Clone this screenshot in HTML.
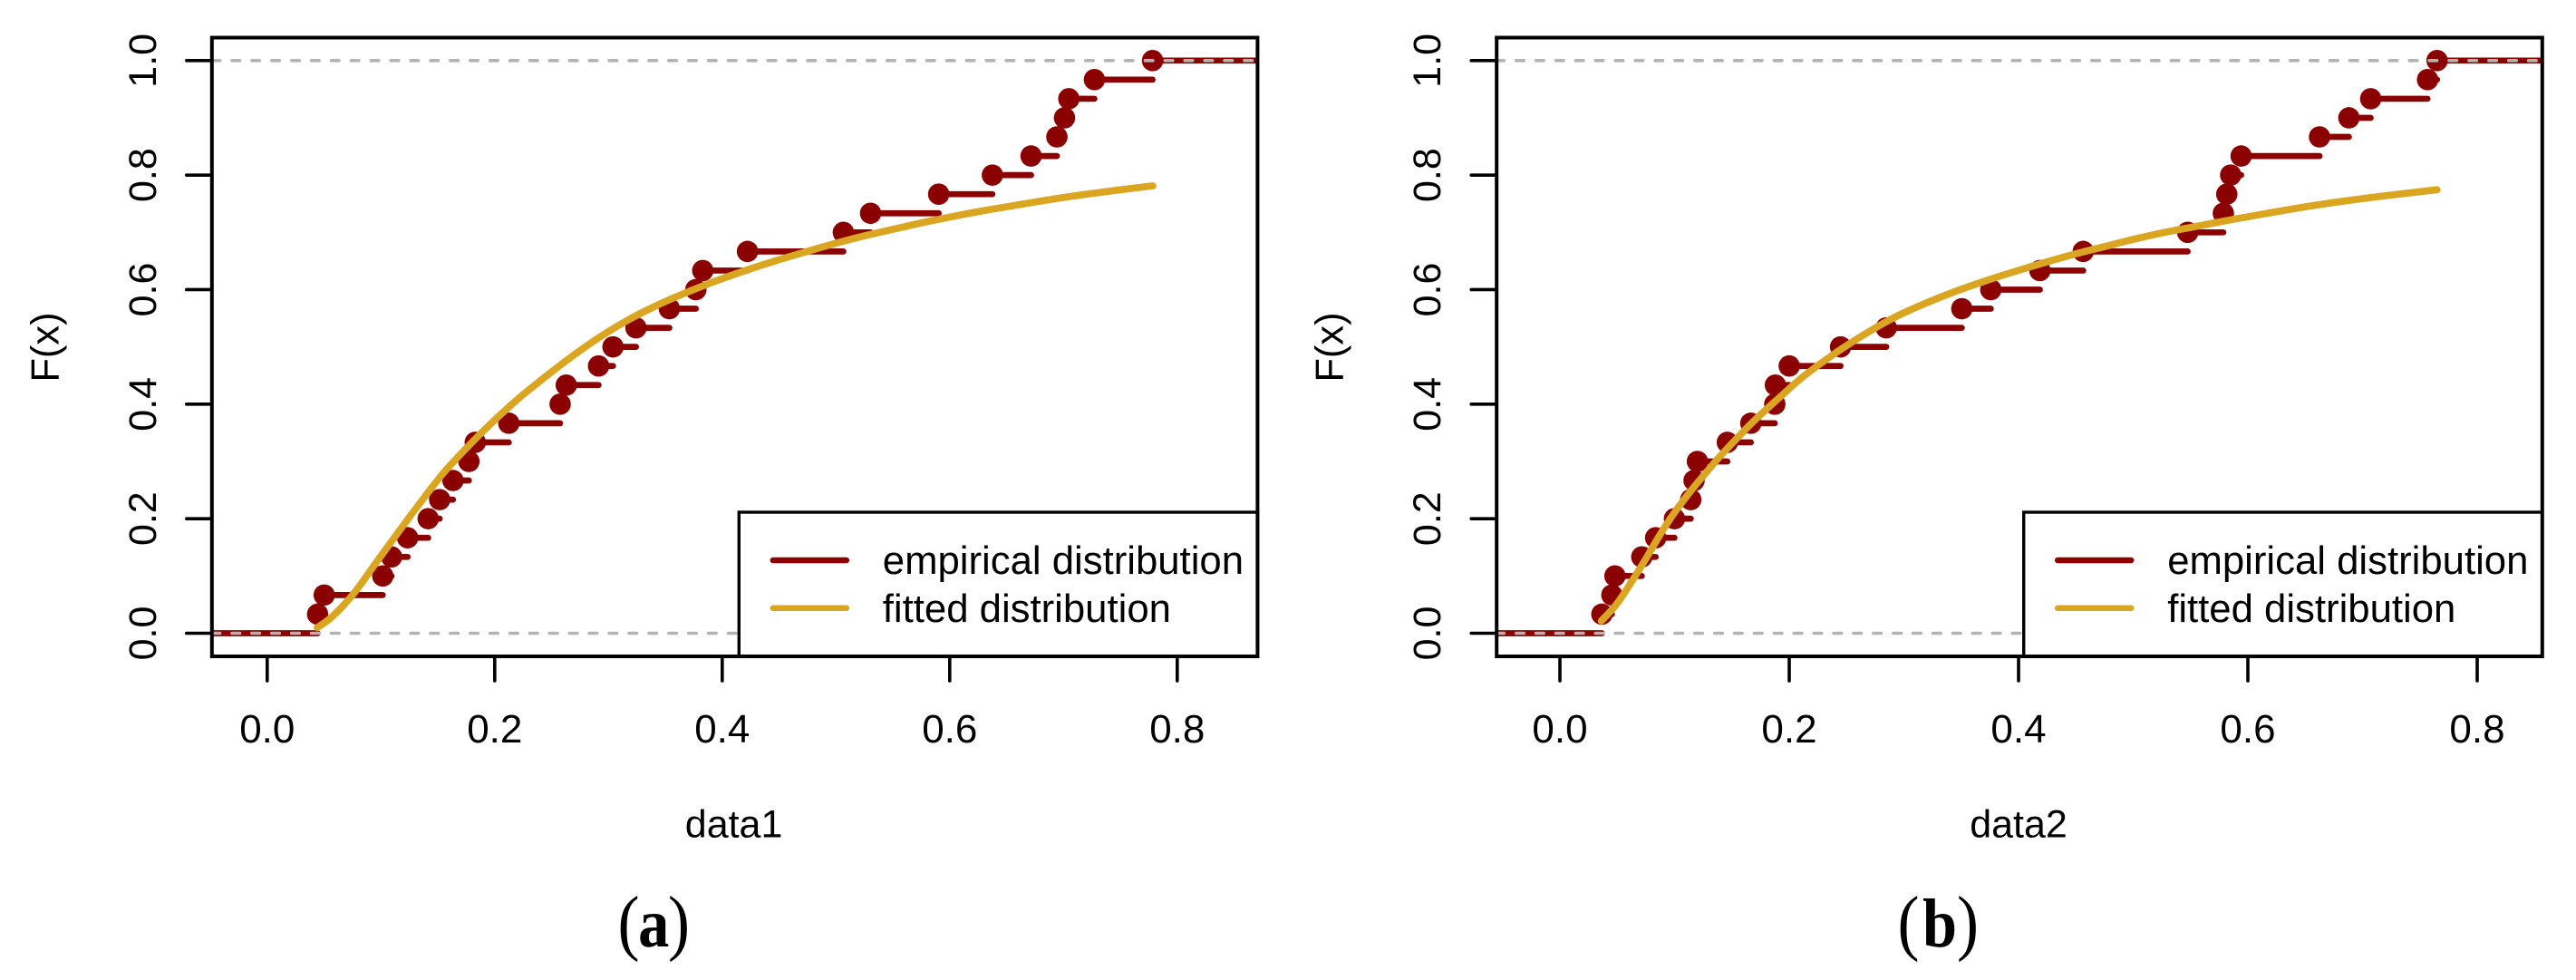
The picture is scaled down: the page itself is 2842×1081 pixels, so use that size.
<!DOCTYPE html>
<html lang="en">
<head>
<meta charset="utf-8">
<title>Empirical and fitted distribution charts</title>
<style>
html,body{margin:0;padding:0;background:#fff;}
body{width:2842px;height:1081px;overflow:hidden;}
svg{display:block;}
text{font-family:"Liberation Sans",sans-serif;fill:#000;}
text.cap{font-family:"Liberation Serif",serif;}
</style>
</head>
<body>
<svg id="figure" xmlns="http://www.w3.org/2000/svg" width="2842" height="1081" viewBox="0 0 2842 1081"></svg>
<script>
const xTickValues = [0.0, 0.2, 0.4, 0.6, 0.8];
const xTickLabels = ["0.0", "0.2", "0.4", "0.6", "0.8"];
const yTickValues = [0.0, 0.2, 0.4, 0.6, 0.8, 1.0];
const yTickLabels = ["0.0", "0.2", "0.4", "0.6", "0.8", "1.0"];
const legendLabels = ["empirical distribution", "fitted distribution"];

const empiricalY = [0.0333,0.0667,0.1,0.1333,0.1667,0.2,0.2333,0.2667,0.3,0.3333,0.3667,0.4,0.4333,0.4667,0.5,0.5333,0.5667,0.6,0.6333,0.6667,0.7,0.7333,0.7667,0.8,0.8333,0.8667,0.9,0.9333,0.9667,1.0];

const empiricalX1 = [0.0443,0.0501,0.1016,0.1093,0.1234,0.1415,0.1516,0.1633,0.1773,0.1829,0.2124,0.2575,0.2629,0.2913,0.304,0.3242,0.3535,0.3768,0.3829,0.4222,0.5065,0.5304,0.5903,0.6375,0.6715,0.6942,0.7009,0.7047,0.7272,0.7783];
const fittedX1 = [0.044,0.0573,0.0759,0.0971,0.1237,0.1502,0.1635,0.19,0.2167,0.2352,0.2618,0.2883,0.3149,0.3414,0.368,0.3946,0.4211,0.4477,0.4743,0.5008,0.5274,0.5539,0.5805,0.6071,0.6336,0.6643,0.7024,0.7405,0.7786];
const fittedF1 = [0.0098,0.0293,0.0689,0.1269,0.1992,0.2683,0.2989,0.3532,0.4026,0.4331,0.4743,0.5119,0.5444,0.5714,0.5945,0.6152,0.6338,0.6508,0.6665,0.6815,0.695,0.707,0.7188,0.7295,0.7392,0.7495,0.7617,0.772,0.7812];

const empiricalX2 = [0.0366,0.0453,0.048,0.0714,0.0835,0.0999,0.1141,0.117,0.1199,0.146,0.1665,0.1874,0.1879,0.2,0.2448,0.2846,0.3505,0.3758,0.4186,0.4564,0.5475,0.5786,0.5816,0.585,0.5941,0.6625,0.6881,0.7071,0.7567,0.765];
const fittedX2 = [0.0361,0.0493,0.0625,0.0756,0.0888,0.102,0.1151,0.1283,0.1415,0.1678,0.1942,0.2126,0.239,0.2653,0.2917,0.318,0.3444,0.3707,0.3971,0.4234,0.4498,0.4761,0.5025,0.5288,0.5552,0.5815,0.6079,0.6383,0.6762,0.7138,0.765];
const fittedF2 = [0.0214,0.0504,0.0899,0.1322,0.177,0.2166,0.2509,0.2825,0.313,0.368,0.4165,0.4488,0.4875,0.5215,0.5515,0.5754,0.5965,0.615,0.6319,0.6477,0.6625,0.6757,0.6889,0.7005,0.7105,0.7206,0.7301,0.7407,0.7525,0.7625,0.7744];

const NS = "http://www.w3.org/2000/svg";
const RED = "#8b0000", GOLD = "#daa520", GRAY = "#b3b3b3";
const svg = document.getElementById("figure");

function make(parent, tag, attrs, txt) {
  const el = document.createElementNS(NS, tag);
  for (const k in attrs) el.setAttribute(k, attrs[k]);
  if (txt !== undefined) el.textContent = txt;
  parent.appendChild(el);
  return el;
}

function smoothPath(p) {
  let d = "M" + p[0][0].toFixed(2) + " " + p[0][1].toFixed(2);
  for (let i = 0; i < p.length - 1; i++) {
    const a = p[Math.max(i - 1, 0)], b = p[i], c = p[i + 1], e = p[Math.min(i + 2, p.length - 1)];
    const c1x = b[0] + (c[0] - a[0]) / 6, c1y = b[1] + (c[1] - a[1]) / 6;
    const c2x = c[0] - (e[0] - b[0]) / 6, c2y = c[1] - (e[1] - b[1]) / 6;
    d += "C" + c1x.toFixed(2) + " " + c1y.toFixed(2) + " " + c2x.toFixed(2) + " " + c2y.toFixed(2) + " " + c[0].toFixed(2) + " " + c[1].toFixed(2);
  }
  return d;
}

function drawPanel(cfg) {
  const L = cfg.left, R = cfg.right, T = 41.5, B = 724;
  const xAxis = v => cfg.x0 + v * cfg.xScale;
  const yAxis = v => 698.5 - v * 631.7;

  const g = make(svg, "g", {});
  
  

  const clipId = "clip-" + cfg.name;
  const defs = make(g, "defs", {});
  const cp = make(defs, "clipPath", {id: clipId});
  make(cp, "rect", {x: L, y: T, width: R - L, height: B - T});

  const plot = make(g, "g", {"clip-path": "url(#" + clipId + ")"});
  
  

  // empirical step segments
  const ex = cfg.ex, ey = cfg.ey;
  const base = make(plot, "line", {x1: L - 5, x2: xAxis(ex[0]), y1: yAxis(0), y2: yAxis(0), stroke: RED, "stroke-width": 6.7, "stroke-linecap": "round"});
  
  
  for (let i = 0; i < ex.length; i++) {
    const endX = i < ex.length - 1 ? xAxis(ex[i + 1]) : R + 5;
    const seg = make(plot, "line", {x1: xAxis(ex[i]), x2: endX, y1: yAxis(ey[i]), y2: yAxis(ey[i]), stroke: RED, "stroke-width": 6.7, "stroke-linecap": "round"});
    
    
  }
  for (let i = 0; i < ex.length; i++) {
    const dot = make(plot, "circle", {cx: xAxis(ex[i]), cy: yAxis(ey[i]), r: 11.8, fill: RED});
    
    
  }

  // gray reference lines
  for (const ref of [0, 1]) {
    const d = make(plot, "line", {x1: cfg.dashStart, x2: R, y1: yAxis(ref), y2: yAxis(ref), stroke: GRAY, "stroke-width": 3.6, "stroke-dasharray": "8.5 13.4", "stroke-linecap": "round"});
    
    
  }

  // fitted curve
  const pts = cfg.fx.map((v, i) => [xAxis(v), yAxis(cfg.ff[i])]);
  const curve = make(plot, "path", {d: smoothPath(pts), fill: "none", stroke: GOLD, "stroke-width": 7.8, "stroke-linecap": "round", "stroke-linejoin": "round"});
  
  

  // legend
  const lg = make(g, "g", {});
  
  
  const lgLeft = L + 581.5;
  const lgBox = make(lg, "rect", {x: lgLeft, y: 565, width: R - lgLeft, height: B - 565, fill: "#fff", stroke: "#000", "stroke-width": 3.4});
  
  
  const lgColors = [RED, GOLD];
  const lgLineY = [618, 670.8];
  const lgTextY = [633, 686];
  legendLabels.forEach((label, i) => {
    const sw = make(lg, "line", {x1: L + 619, x2: L + 700, y1: lgLineY[i], y2: lgLineY[i], stroke: lgColors[i], "stroke-width": 6.5, "stroke-linecap": "round"});
    
    
    const tx = make(lg, "text", {x: L + 740, y: lgTextY[i], "font-size": 43.7}, label);
    
    
  });

  // frame
  const frame = make(g, "rect", {x: L, y: T, width: R - L, height: B - T, fill: "none", stroke: "#000", "stroke-width": 4});
  
  

  // x axis
  xTickValues.forEach((v, i) => {
    const t = make(g, "line", {x1: xAxis(v), x2: xAxis(v), y1: B, y2: B + 27, stroke: "#000", "stroke-width": 3.6, "stroke-linecap": "round"});
    
    
    const lab = make(g, "text", {x: xAxis(v), y: 819, "font-size": 44, "text-anchor": "middle"}, xTickLabels[i]);
    
    
  });

  // y axis
  yTickValues.forEach((v, i) => {
    const t = make(g, "line", {x1: L - 28, x2: L, y1: yAxis(v), y2: yAxis(v), stroke: "#000", "stroke-width": 3.6, "stroke-linecap": "round"});
    
    
    const ly = L - 62;
    const lab = make(g, "text", {x: ly, y: yAxis(v), "font-size": 43, "text-anchor": "middle", transform: "rotate(-90 " + ly + " " + yAxis(v) + ")"}, yTickLabels[i]);
    
    
  });

  // titles
  const xt = make(g, "text", {x: (L + R) / 2 - 1, y: 923.5, "font-size": 43, "text-anchor": "middle"}, cfg.xTitle);
  
  
  const yx = L - 169.5, yy = 383;
  const yt = make(g, "text", {x: yx, y: yy, "font-size": 43.5, "text-anchor": "middle", transform: "rotate(-90 " + yx + " " + yy + ")"}, "F(x)");
  
  

  // caption: tall, slightly condensed parentheses with a bold letter
  const capScale = 0.9;
  const cap = make(g, "text", {y: 1044, "font-size": 80, "text-anchor": "middle", class: "cap", transform: "scale(" + capScale + " 1)"});
  
  
  make(cap, "tspan", {x: cfg.capParenL / capScale}, "(");
  make(cap, "tspan", {x: cfg.capLetterX / capScale, "font-weight": "bold", "font-size": 76}, cfg.capLetter);
  make(cap, "tspan", {x: cfg.capParenR / capScale}, ")");
}

drawPanel({name: "panel-a", left: 233.8, right: 1387.4, x0: 294.8, xScale: 1255, dashStart: 234.1,
  ex: empiricalX1, ey: empiricalY, fx: fittedX1, ff: fittedF1, xTitle: "data1",
  capParenL: 693.5, capLetterX: 721.2, capParenR: 749, capLetter: "a"});
drawPanel({name: "panel-b", left: 1651.2, right: 2804.8, x0: 1721, xScale: 1265, dashStart: 1650.8,
  ex: empiricalX2, ey: empiricalY, fx: fittedX2, ff: fittedF2, xTitle: "data2",
  capParenL: 2105.5, capLetterX: 2140, capParenR: 2171, capLetter: "b"});
</script>
</body>
</html>
